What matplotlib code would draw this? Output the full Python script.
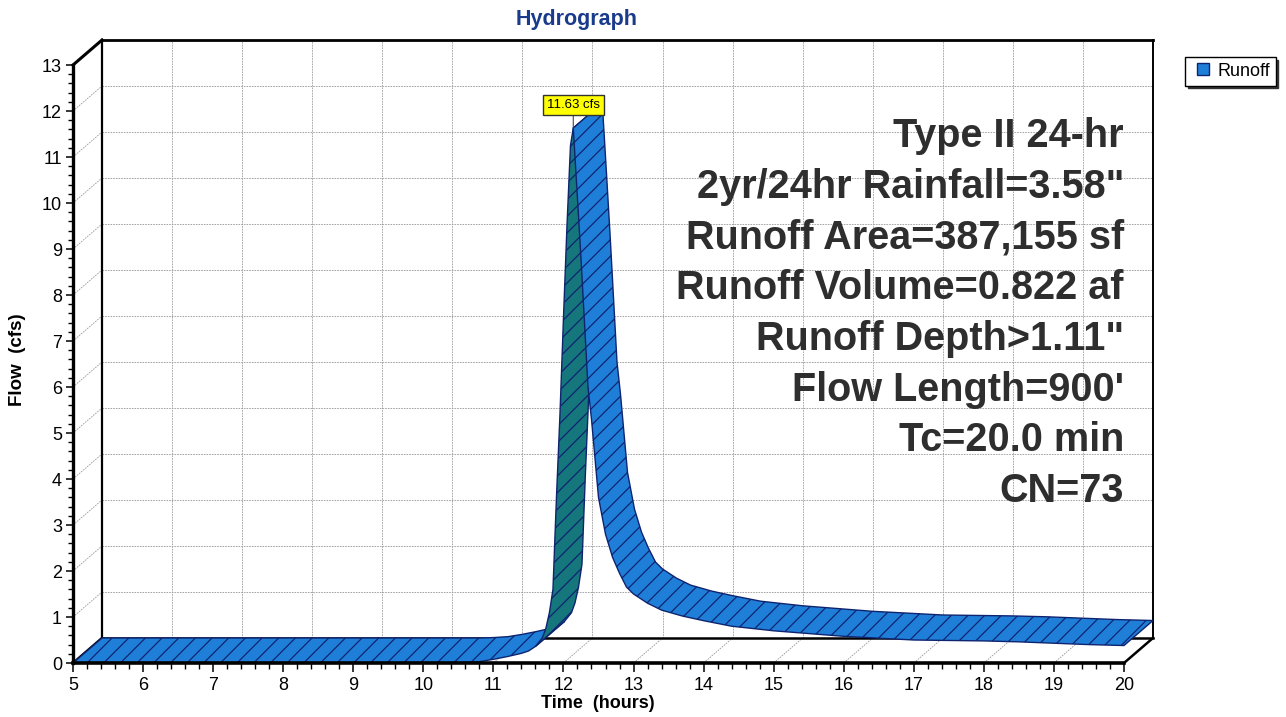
import numpy as np
import matplotlib
matplotlib.use('Agg')
import matplotlib.pyplot as plt
from matplotlib.patches import Polygon
from matplotlib.lines import Line2D
from matplotlib.ticker import FixedLocator

plt.rcParams['font.family'] = ['Liberation Sans', 'DejaVu Sans']
plt.rcParams['hatch.linewidth'] = 0.9

# hydrograph (front edge of the ribbon)
time_hr = [5.0, 6.0, 7.0, 8.0, 9.0, 10.0, 10.4, 10.6, 10.8, 11.0, 11.2, 11.4, 11.5, 11.6,
           11.7, 11.75, 11.8, 11.85, 11.9, 11.95, 12.0, 12.05, 12.1, 12.14, 12.2, 12.25,
           12.3, 12.35, 12.4, 12.5, 12.6, 12.7, 12.8, 12.9, 13.0, 13.2, 13.4, 13.7, 14.0,
           14.4, 15.0, 15.5, 16.0, 16.5, 17.0, 17.5, 18.0, 18.5, 19.0, 19.5, 20.0]
flow_cfs = [0, 0, 0, 0, 0, 0, 0, 0.01, 0.03, 0.08, 0.14, 0.21, 0.26, 0.36,
            0.55, 0.76, 1.1, 1.6, 3.6, 5.4, 7.5, 9.5, 11.25, 11.63, 10.1, 8.8,
            7.4, 6.0, 5.3, 3.6, 2.8, 2.3, 1.95, 1.65, 1.5, 1.3, 1.15, 1.02, 0.92,
            0.8, 0.7, 0.64, 0.58, 0.54, 0.5, 0.49, 0.48, 0.46, 0.43, 0.4, 0.38]

x_ticks = list(range(5, 21))
y_ticks = list(range(0, 14))
info_lines = ['Type II 24-hr', '2yr/24hr Rainfall=3.58"', 'Runoff Area=387,155 sf',
              'Runoff Volume=0.822 af', 'Runoff Depth>1.11"', "Flow Length=900'",
              'Tc=20.0 min', 'CN=73']
series_name = 'Runoff'

# depth offset of the back wall in data units (pseudo 3D)
dt = 0.414
dq = 0.5435

blue = '#1f7fd8'
teal = '#15767c'
navy = '#0f2470'
gridc = '#9a9a9a'

t = np.array(time_hr)
q = np.array(flow_cfs)

fig = plt.figure(figsize=(12.86, 7.17), dpi=100)
ax = fig.add_axes([73/1286, 54/717, (1153-73)/1286, (663-40)/717])
ax.set_xlim(5, 20 + dt)
ax.set_ylim(0, 13 + dq)
for s in ax.spines.values():
    s.set_visible(False)

ax.set_xticks(x_ticks)
ax.set_yticks(y_ticks)
ax.xaxis.set_minor_locator(FixedLocator(np.arange(5, 20.001, 0.2)))
ax.yaxis.set_minor_locator(FixedLocator(np.arange(0, 13.001, 0.2)))
ax.tick_params(which='major', direction='out', length=6.5, width=1.1, labelsize=13, pad=3.5)
ax.tick_params(axis='y', which='major', length=5, pad=3)
ax.tick_params(which='minor', direction='out', length=4, width=1.0)
ax.tick_params(axis='y', which='minor', length=3.5)

# grid: back wall, left wall, floor
gkw = dict(color=gridc, lw=0.6, ls=(0, (2, 1.2)), zorder=1)
for xv in x_ticks[1:-1]:
    ax.plot([xv + dt, xv + dt], [dq, 13 + dq], **gkw)
    ax.plot([xv, xv + dt], [0, dq], **gkw)
for yv in y_ticks[1:-1]:
    ax.plot([5 + dt, 20 + dt], [yv + dq, yv + dq], **gkw)
    ax.plot([5, 5 + dt], [yv, yv + dq], **gkw)

# frame
fkw = dict(color='black', clip_on=False, solid_capstyle='projecting')
ax.plot([5 + dt, 20 + dt], [13 + dq, 13 + dq], lw=2.0, zorder=2, **fkw)
ax.plot([5 + dt, 5 + dt], [dq, 13 + dq], lw=1.6, zorder=2, **fkw)
ax.plot([20 + dt, 20 + dt], [dq, 13 + dq], lw=1.4, zorder=2, **fkw)
ax.plot([5 + dt, 20 + dt], [dq, dq], lw=1.8, zorder=2, **fkw)
ax.plot([20, 20 + dt], [0, dq], lw=1.8, zorder=2, **fkw)
ax.plot([5, 5 + dt], [0, dq], lw=1.8, zorder=2, **fkw)
ax.plot([5, 5 + dt], [13, 13 + dq], lw=2.2, zorder=5, **fkw)
ax.plot([5, 5], [0, 13], lw=2.4, zorder=5, **fkw)
ax.plot([5, 20], [0, 0], lw=2.6, zorder=5, **fkw)

# ribbon: group segments by which side faces the viewer
side = (np.diff(t) * dq - np.diff(q) * dt) > 0
start = 0
z = 3
for i in range(1, len(side) + 1):
    if i == len(side) or side[i] != side[start]:
        a, b = start, i
        fx = t[a:b + 1]
        fy = q[a:b + 1]
        pts = np.column_stack([np.concatenate([fx, fx[::-1] + dt]),
                               np.concatenate([fy, fy[::-1] + dq])])
        poly = Polygon(pts, closed=True, facecolor=blue if side[start] else teal,
                       edgecolor=navy, lw=1.0, hatch='//', zorder=z)
        ax.add_patch(poly)
        z += 0.01
        start = i

# peak label
ip = int(np.argmax(q))
ax.annotate('%.2f cfs' % q[ip], xy=(t[ip], q[ip]), xytext=(0, 16.5),
            textcoords='offset points', ha='center', va='center', fontsize=9.5,
            bbox=dict(boxstyle='square,pad=0.3', fc='#ffff00', ec='#333333', lw=1),
            arrowprops=dict(arrowstyle='-', color='#444444', lw=0.8,
                            shrinkA=0, shrinkB=0), zorder=7)

# info text
for k, line in enumerate(info_lines):
    fig.text(1124/1286, 1 - (147 + 50.7*k)/717, line, ha='right', va='baseline',
             fontsize=28.5, fontweight='bold', color='#2e2e2e', zorder=8)

fig.text(577/1286, 1 - 25/717, 'Hydrograph', ha='center', va='baseline',
         fontsize=15.5, fontweight='bold', color='#1a3a8c')
fig.text(598/1286, 1 - 704/717, 'Time  (hours)', ha='center', va='center',
         fontsize=13, fontweight='bold')
fig.text(18/1286, 1 - 360/717, 'Flow  (cfs)', ha='center', va='center',
         rotation=90, fontsize=13.5, fontweight='bold')

handle = Line2D([], [], marker='s', markersize=9, markerfacecolor=blue,
                markeredgecolor=navy, linestyle='None')
leg = fig.legend([handle], [series_name],
                 loc='upper left', bbox_to_anchor=(1185/1286, 1 - 57/717),
                 fontsize=13, frameon=True, fancybox=False,
                 shadow={'color': '#333333', 'alpha': 1},
                 handlelength=1.4, handleheight=0.9, handletextpad=0.1,
                 borderpad=0.3, borderaxespad=0)
leg.get_frame().set_edgecolor('black')
leg.get_frame().set_linewidth(1.0)

fig.savefig('out.png', dpi=100)
